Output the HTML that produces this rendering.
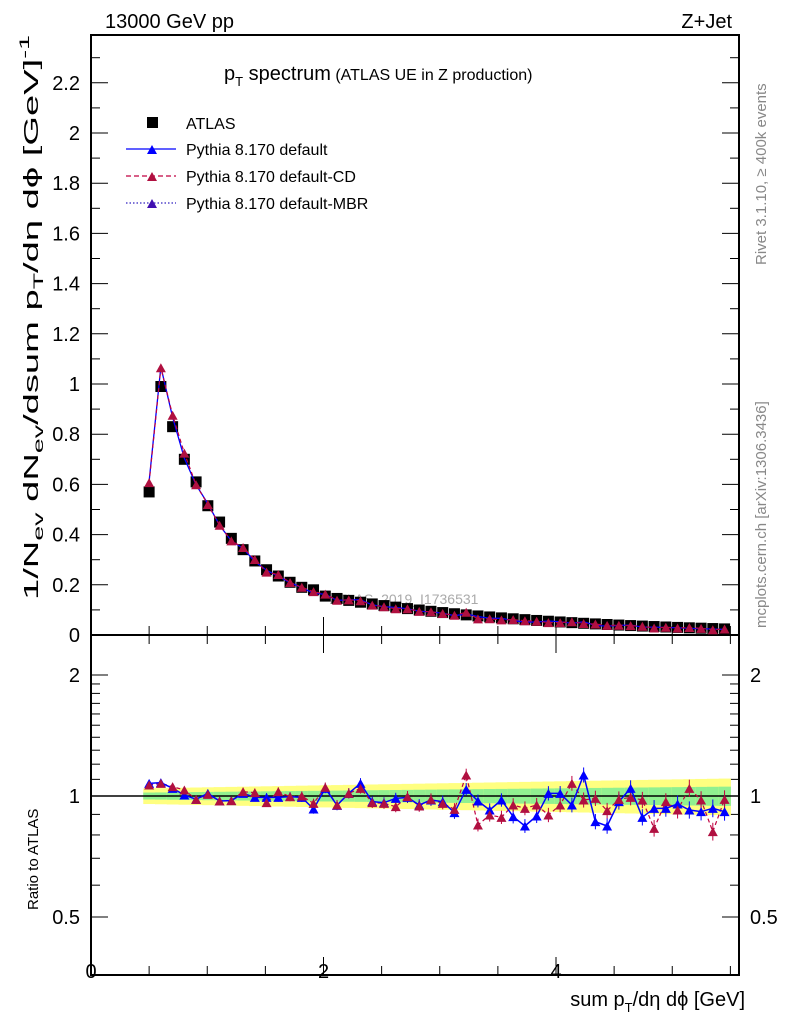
<!DOCTYPE html>
<html><head><meta charset="utf-8"><style>body{margin:0;background:#fff}svg{display:block;font-family:"Liberation Sans",sans-serif}</style></head>
<body><svg id="s" width="786" height="1024" xmlns="http://www.w3.org/2000/svg">
<text x="105" y="28" font-size="20">13000 GeV pp</text>
<text x="732" y="28" font-size="20" text-anchor="end">Z+Jet</text>
<text x="224" y="80" font-size="20">p<tspan font-size="13" dy="6">T</tspan><tspan dy="-6"> spectrum</tspan><tspan font-size="16"> (ATLAS UE in Z production)</tspan></text>
<text transform="translate(766,265) rotate(-90)" font-size="15" fill="#888">Rivet 3.1.10, ≥ 400k events</text>
<text transform="translate(766,628) rotate(-90)" font-size="15" fill="#888">mcplots.cern.ch [arXiv:1306.3436]</text>
<text x="330" y="604" font-size="14" fill="#aaa">ATLAS_2019_I1736531</text>
<text transform="translate(38,600) rotate(-90)" font-size="20" textLength="565" lengthAdjust="spacingAndGlyphs">1/N<tspan font-size="14" dy="5">ev</tspan><tspan dy="-5"> dN</tspan><tspan font-size="14" dy="5">ev</tspan><tspan dy="-5">/dsum p</tspan><tspan font-size="14" dy="5">T</tspan><tspan dy="-5">/dη dϕ  [GeV]</tspan><tspan font-size="14" dy="-9">-1</tspan></text>
<text transform="translate(38,910) rotate(-90)" font-size="15">Ratio to ATLAS</text>
<text x="745" y="1006" font-size="20" text-anchor="end">sum p<tspan font-size="13" dy="6">T</tspan><tspan dy="-6">/dη dϕ [GeV]</tspan></text>
<g id="g"></g>
<rect x="147" y="117" width="11" height="11" fill="#000"/><text x="186" y="129" font-size="16">ATLAS</text>
<line x1="126" y1="149" x2="176" y2="149" stroke="#00f" stroke-width="1.3"/><path d="M147,154 l5,-9 l5,9z" fill="#00f"/><text x="186" y="155" font-size="16">Pythia 8.170 default</text>
<line x1="126" y1="176" x2="176" y2="176" stroke="#c00040" stroke-width="1.3" stroke-dasharray="5,3"/><path d="M147,181 l5,-9 l5,9z" fill="#b01040"/><text x="186" y="182" font-size="16">Pythia 8.170 default-CD</text>
<line x1="126" y1="203" x2="176" y2="203" stroke="#3020c0" stroke-width="1.3" stroke-dasharray="1.5,2"/><path d="M147,208 l5,-9 l5,9z" fill="#4010b0"/><text x="186" y="209" font-size="16">Pythia 8.170 default-MBR</text>
</svg>
<script>
const g=document.getElementById('g');let h='';
const X=x=>91+116.25*x, Y=y=>635-251*y, R=r=>796-121*Math.log2(r);
const ST=(5.45-0.5)/49, PX=i=>0.5+ST*i;
h+='<rect x="91" y="35" width="648" height="600" fill="none" stroke="#000" stroke-width="2"/>';
h+='<rect x="91" y="635" width="648" height="340" fill="none" stroke="#000" stroke-width="2"/>';
for(let i=0;i<=24;i++){let y=Y(i*0.1),L=i%2==0?17:9;if(y<35)continue;h+=`<line x1="91" y1="${y}" x2="${91+L}" y2="${y}" stroke="#000"/><line x1="739" y1="${y}" x2="${739-L}" y2="${y}" stroke="#000"/>`;
if(i%2==0)h+=`<text x="80" y="${y+7}" font-size="20" text-anchor="end">${+(i*0.1).toFixed(1)}</text>`;}
for(let i=0;i<=11;i++){let x=X(i*0.5),L=i%4==0?18:9;if(x>739)break;h+=`<line x1="${x}" y1="635" x2="${x}" y2="${635-L}" stroke="#000"/><line x1="${x}" y1="975" x2="${x}" y2="${975-L}" stroke="#000"/><line x1="${x}" y1="635" x2="${x}" y2="${635+L}" stroke="#000"/>`;}
[0,2,4].forEach(v=>h+=`<text x="${X(v)}" y="978" font-size="20" text-anchor="middle">${v}</text>`);
[0.5,0.6,0.7,0.8,0.9,1,1.1,1.2,1.3,1.4,1.5,1.6,1.7,1.8,1.9,2].forEach(r=>{let y=R(r),L=(r==0.5||r==1||r==2)?17:9;h+=`<line x1="91" y1="${y}" x2="${91+L}" y2="${y}" stroke="#000"/><line x1="739" y1="${y}" x2="${739-L}" y2="${y}" stroke="#000"/>`});
[[2,'2'],[1,'1'],[0.5,'0.5']].forEach(([r,t])=>{h+=`<text x="80" y="${R(r)+7}" font-size="20" text-anchor="end">${t}</text><text x="750" y="${R(r)+7}" font-size="20">${t}</text>`});
const head=[0.57,0.99,0.83,0.70,0.61,0.515,0.45,0.385,0.34,0.295,0.26,0.235,0.21,0.19,0.18,0.155];
const D=[];for(let i=0;i<50;i++){let x=PX(i);D.push(i<head.length?head[i]:0.155*Math.pow(0.025/0.155,(x-2)/3.4));}
const bz=[130,128,145,165,178,160,183,182,160,172,172,172,170,172,207,145,196,160,130,185,188,175,172,195,180,185,218,148,183,210,180,230,258,228,160,160,195,105,245,258,185,145,232,205,205,192,210,215,205,215];
const rz=[135,130,140,150,178,163,183,182,155,158,188,155,170,168,190,142,195,160,145,188,190,200,170,198,178,190,208,105,255,225,232,195,205,195,225,195,130,180,175,212,178,172,180,265,185,210,145,180,275,178];
const zr=z=>Math.pow(2,(796-(740+z/3))/121);
for(let i=0;i<50;i++){let x=PX(i)-ST/2,f=i/49,ye=0.045+0.06*f,gr=0.02+0.035*f;
h+=`<rect x="${X(x)}" y="${R(1+ye)}" width="${116.25*ST+0.5}" height="${R(1-ye)-R(1+ye)}" fill="#ffff80"/>`;
h+=`<rect x="${X(x)}" y="${R(1+gr)}" width="${116.25*ST+0.5}" height="${R(1-gr)-R(1+gr)}" fill="#90f090"/>`;}
h+=`<line x1="91" y1="796" x2="739" y2="796" stroke="#000" stroke-width="1.5"/>`;
let tri=(x,y,c)=>`<path d="M${x-5},${y+4.5} l5,-9 l5,9z" fill="${c}"/>`;
let pb='',pr='';D.forEach((v,i)=>{let x=X(PX(i));pb+=(i?'L':'M')+x+','+Y(v*zr(bz[i]));pr+=(i?'L':'M')+x+','+Y(v*zr(rz[i]));});
D.forEach((v,i)=>{let x=X(PX(i));h+=`<rect x="${x-5.5}" y="${Y(v)-5.5}" width="11" height="11" fill="#000"/>`});
h+=`<path d="${pb}" fill="none" stroke="#00f" stroke-width="1.3"/><path d="${pr}" fill="none" stroke="#c00040" stroke-width="1.2" stroke-dasharray="4,3"/>`;
D.forEach((v,i)=>{let x=X(PX(i));h+=tri(x,Y(v*zr(rz[i])),'#b01040')});
let qb='',qr='';for(let i=0;i<50;i++){let x=X(PX(i));qb+=(i?'L':'M')+x+','+R(zr(bz[i]));qr+=(i?'L':'M')+x+','+R(zr(rz[i]));}
h+=`<path d="${qr}" fill="none" stroke="#c00040" stroke-width="1.2" stroke-dasharray="4,3"/><path d="${qb}" fill="none" stroke="#00f" stroke-width="1.5"/>`;
for(let i=0;i<50;i++){let x=X(PX(i)),e=3+6*i/49;
let yb=R(zr(bz[i])),yr=R(zr(rz[i]));
h+=`<line x1="${x}" y1="${yb-e}" x2="${x}" y2="${yb+e}" stroke="#00f"/><line x1="${x}" y1="${yr-e}" x2="${x}" y2="${yr+e}" stroke="#c00040"/>`;
h+=tri(x,yb,'#00f')+tri(x,yr,'#b01040');}
g.innerHTML=h;
</script></body></html>
